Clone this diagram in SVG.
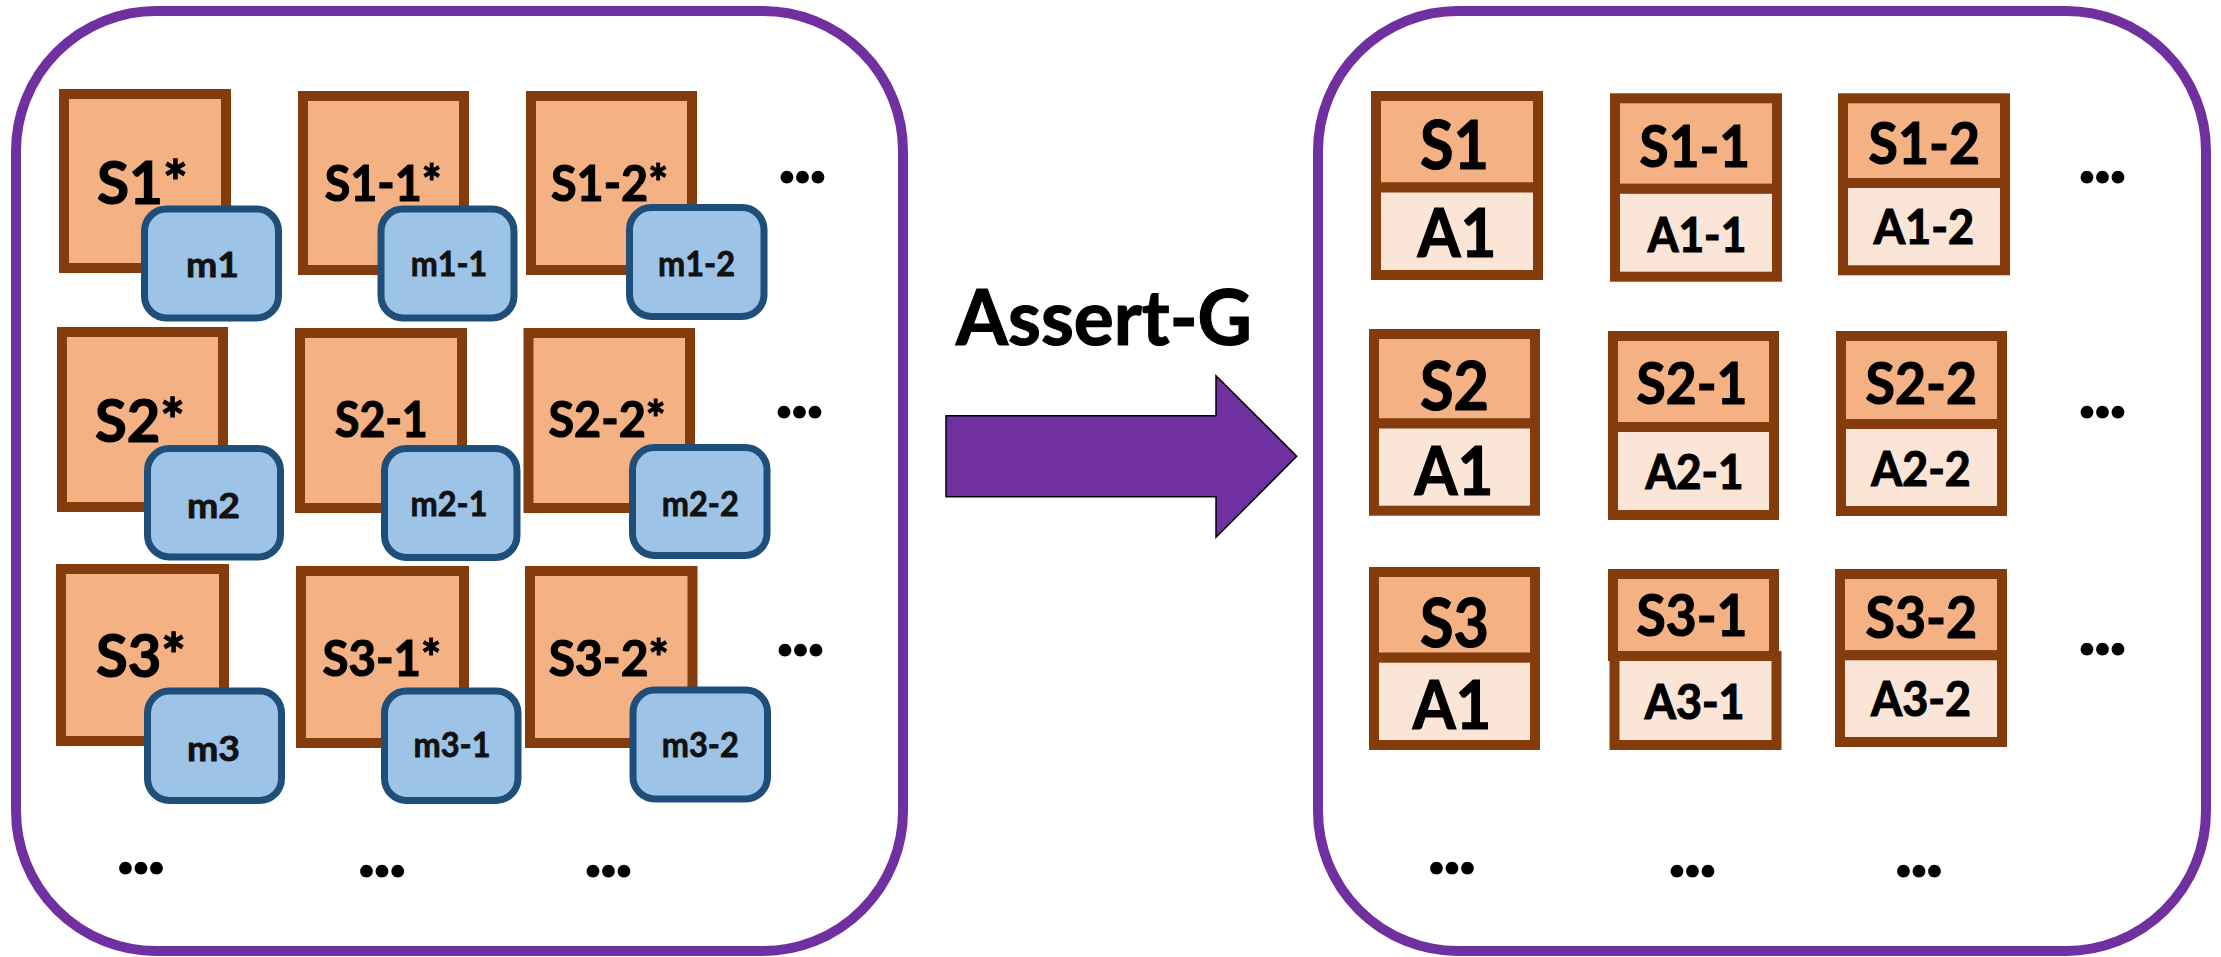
<svg xmlns="http://www.w3.org/2000/svg" width="2221" height="957" viewBox="0 0 2221 957">
  <style>
    .panel { fill: #FFFFFF; stroke: #7030A0; stroke-width: 10; }
    .s { fill: #F4B183; stroke: #843C0C; stroke-width: 10; }
    .a { fill: #FBE5D6; stroke: #843C0C; stroke-width: 10; }
    .m { fill: #9DC3E6; stroke: #1F4E79; stroke-width: 7; }
    text { font-family: Lato, "Liberation Sans", sans-serif; font-weight: bold; fill: #000000; stroke: #000000; stroke-width: 1.2; }
    .c { text-anchor: middle; }
    .big { font-size: 59px; }
    .mid { font-size: 50px; }
    .sml { font-size: 35px; fill: #111111; stroke: #111111; stroke-width: 0.8; }
    .hd { font-size: 67px; }
    .hs { font-size: 58px; }
    .ha { font-size: 48px; }
    .dots { font-size: 84px; stroke-width: 0; }
  </style>

  <rect width="2221" height="957" fill="#FFFFFF"/>

  <!-- input panel: states with marks -->
  <g id="panel-left">
    <rect class="panel" x="16" y="11" width="887" height="940" rx="140" ry="140"/>
  </g>

  <!-- output panel: states with assertions -->
  <g id="panel-right">
    <rect class="panel" x="1318" y="11" width="888" height="940" rx="140" ry="140"/>
  </g>

  <!-- transformation arrow -->
  <g id="connectors">
    <polygon points="946,415.7 1216,415.7 1216,375.7 1296.7,456.3 1216,537.3 1216,496.7 946,496.7" fill="#7030A0" stroke="#000000" stroke-width="1.5"/>
  </g>
  <g id="label-assert">
    <text x="1104" y="345" class="c" font-size="76" textLength="296" lengthAdjust="spacingAndGlyphs">Assert-G</text>
  </g>

  <!-- left grid: row 1 -->
  <g id="s1star">
    <rect class="s" x="64" y="94" width="162" height="174"/>
    <text x="142.4" y="204" class="c big" textLength="91" lengthAdjust="spacingAndGlyphs">S1*</text>
  </g>
  <g id="m1">
    <rect class="m" x="144.5" y="209" width="134" height="109" rx="22"/>
    <text x="212.4" y="276.5" class="c sml" textLength="53" lengthAdjust="spacingAndGlyphs">m1</text>
  </g>
  <g id="s1-1star">
    <rect class="s" x="303" y="96" width="161" height="174"/>
    <text x="383.2" y="201" class="c mid" textLength="117" lengthAdjust="spacingAndGlyphs">S1-1*</text>
  </g>
  <g id="m1-1">
    <rect class="m" x="381" y="209" width="133" height="109" rx="22"/>
    <text x="449" y="276" class="c sml" textLength="76.5" lengthAdjust="spacingAndGlyphs">m1-1</text>
  </g>
  <g id="s1-2star">
    <rect class="s" x="531" y="96" width="161" height="174"/>
    <text x="609.5" y="201" class="c mid" textLength="117" lengthAdjust="spacingAndGlyphs">S1-2*</text>
  </g>
  <g id="m1-2">
    <rect class="m" x="629.5" y="207.5" width="134.5" height="109" rx="22"/>
    <text x="696.5" y="276" class="c sml" textLength="77" lengthAdjust="spacingAndGlyphs">m1-2</text>
  </g>

  <!-- left grid: row 2 -->
  <g id="s2star">
    <rect class="s" x="62" y="332" width="161" height="175"/>
    <text x="139.9" y="441.7" class="c big" textLength="90" lengthAdjust="spacingAndGlyphs">S2*</text>
  </g>
  <g id="m2">
    <rect class="m" x="147.5" y="448.5" width="133" height="108.5" rx="22"/>
    <text x="213.5" y="517.5" class="c sml" textLength="53" lengthAdjust="spacingAndGlyphs">m2</text>
  </g>
  <g id="s2-1">
    <rect class="s" x="300" y="333" width="162" height="175"/>
    <text x="381.3" y="437" class="c mid" textLength="92.6" lengthAdjust="spacingAndGlyphs">S2-1</text>
  </g>
  <g id="m2-1">
    <rect class="m" x="384.5" y="448.5" width="132.5" height="109" rx="22"/>
    <text x="449" y="515.7" class="c sml" textLength="77" lengthAdjust="spacingAndGlyphs">m2-1</text>
  </g>
  <g id="s2-2star">
    <rect class="s" x="528.5" y="333" width="161.5" height="175"/>
    <text x="607.1" y="437.3" class="c mid" textLength="117.3" lengthAdjust="spacingAndGlyphs">S2-2*</text>
  </g>
  <g id="m2-2">
    <rect class="m" x="632.5" y="447.5" width="134.5" height="108" rx="22"/>
    <text x="700.3" y="515.7" class="c sml" textLength="77" lengthAdjust="spacingAndGlyphs">m2-2</text>
  </g>

  <!-- left grid: row 3 -->
  <g id="s3star">
    <rect class="s" x="61" y="569" width="163" height="172"/>
    <text x="140.9" y="676.7" class="c big" textLength="90" lengthAdjust="spacingAndGlyphs">S3*</text>
  </g>
  <g id="m3">
    <rect class="m" x="147.5" y="691" width="134" height="109.5" rx="22"/>
    <text x="213.5" y="760.5" class="c sml" textLength="53" lengthAdjust="spacingAndGlyphs">m3</text>
  </g>
  <g id="s3-1star">
    <rect class="s" x="301" y="571" width="163" height="172"/>
    <text x="381.8" y="675.7" class="c mid" textLength="118.8" lengthAdjust="spacingAndGlyphs">S3-1*</text>
  </g>
  <g id="m3-1">
    <rect class="m" x="384.5" y="691" width="133.5" height="109.5" rx="22"/>
    <text x="452" y="757.3" class="c sml" textLength="77" lengthAdjust="spacingAndGlyphs">m3-1</text>
  </g>
  <g id="s3-2star">
    <rect class="s" x="530" y="571" width="162.5" height="172"/>
    <text x="608.8" y="675.7" class="c mid" textLength="120" lengthAdjust="spacingAndGlyphs">S3-2*</text>
  </g>
  <g id="m3-2">
    <rect class="m" x="633" y="690" width="134.5" height="109" rx="22"/>
    <text x="700.3" y="757.3" class="c sml" textLength="77" lengthAdjust="spacingAndGlyphs">m3-2</text>
  </g>

  <!-- left grid continuation marks -->
  <g id="left-more">
    <text x="777" y="183" class="dots" textLength="51" lengthAdjust="spacing">...</text>
    <text x="774" y="418" class="dots" textLength="51" lengthAdjust="spacing">...</text>
    <text x="775" y="655.5" class="dots" textLength="51" lengthAdjust="spacing">...</text>
    <text x="115.5" y="874" class="dots" textLength="51" lengthAdjust="spacing">...</text>
    <text x="356.6" y="876.5" class="dots" textLength="51" lengthAdjust="spacing">...</text>
    <text x="583" y="876.5" class="dots" textLength="51" lengthAdjust="spacing">...</text>
  </g>

  <!-- right grid: row 1 -->
  <g id="s1">
    <rect class="s" x="1376" y="96" width="162" height="91.5"/>
    <rect class="a" x="1376" y="187.5" width="162" height="87.5"/>
    <text x="1454.5" y="169.3" class="c hd" textLength="69" lengthAdjust="spacingAndGlyphs">S1</text>
    <text x="1457" y="257.3" class="c hd" textLength="79" lengthAdjust="spacingAndGlyphs">A1</text>
  </g>
  <g id="s1-1">
    <rect class="s" x="1615" y="98.3" width="162" height="90.5"/>
    <rect class="a" x="1615" y="188.8" width="162" height="87.9"/>
    <text x="1694.8" y="166.7" class="c hs" textLength="110.5" lengthAdjust="spacingAndGlyphs">S1-1</text>
    <text x="1697" y="251.7" class="c ha" textLength="98.7" lengthAdjust="spacingAndGlyphs">A1-1</text>
  </g>
  <g id="s1-2">
    <rect class="s" x="1843" y="98.3" width="162" height="84.7"/>
    <rect class="a" x="1843" y="183" width="162" height="87.3"/>
    <text x="1924.3" y="164.3" class="c hs" textLength="111.4" lengthAdjust="spacingAndGlyphs">S1-2</text>
    <text x="1924" y="244.3" class="c ha" textLength="100.4" lengthAdjust="spacingAndGlyphs">A1-2</text>
  </g>

  <!-- right grid: row 2 -->
  <g id="s2">
    <rect class="s" x="1374" y="334" width="161" height="89.5"/>
    <rect class="a" x="1374" y="423.5" width="161" height="87.2"/>
    <text x="1454.5" y="410" class="c hd" textLength="69" lengthAdjust="spacingAndGlyphs">S2</text>
    <text x="1454" y="495" class="c hd" textLength="79" lengthAdjust="spacingAndGlyphs">A1</text>
  </g>
  <g id="s2-1r">
    <rect class="s" x="1613" y="336" width="161" height="91"/>
    <rect class="a" x="1613" y="427" width="161" height="88"/>
    <text x="1692" y="404" class="c hs" textLength="111" lengthAdjust="spacingAndGlyphs">S2-1</text>
    <text x="1694.5" y="489" class="c ha" textLength="98" lengthAdjust="spacingAndGlyphs">A2-1</text>
  </g>
  <g id="s2-2">
    <rect class="s" x="1841" y="336" width="161" height="88"/>
    <rect class="a" x="1841" y="424" width="161" height="87"/>
    <text x="1921.4" y="404" class="c hs" textLength="111.6" lengthAdjust="spacingAndGlyphs">S2-2</text>
    <text x="1921" y="486" class="c ha" textLength="99.3" lengthAdjust="spacingAndGlyphs">A2-2</text>
  </g>

  <!-- right grid: row 3 -->
  <g id="s3">
    <rect class="s" x="1374" y="572" width="161" height="85.7"/>
    <rect class="a" x="1374" y="657.7" width="161" height="87.3"/>
    <text x="1454.5" y="646.7" class="c hd" textLength="69" lengthAdjust="spacingAndGlyphs">S3</text>
    <text x="1452" y="729" class="c hd" textLength="78.7" lengthAdjust="spacingAndGlyphs">A1</text>
  </g>
  <g id="s3-1">
    <rect class="s" x="1613" y="574" width="161" height="82"/>
    <rect class="a" x="1614.5" y="656" width="162" height="89"/>
    <text x="1692" y="635.7" class="c hs" textLength="111" lengthAdjust="spacingAndGlyphs">S3-1</text>
    <text x="1694.7" y="718.7" class="c ha" textLength="99.8" lengthAdjust="spacingAndGlyphs">A3-1</text>
  </g>
  <g id="s3-2">
    <rect class="s" x="1840" y="574" width="162" height="81.3"/>
    <rect class="a" x="1840" y="655.3" width="162" height="86.7"/>
    <text x="1921.4" y="638.3" class="c hs" textLength="111.6" lengthAdjust="spacingAndGlyphs">S3-2</text>
    <text x="1921" y="716" class="c ha" textLength="99.8" lengthAdjust="spacingAndGlyphs">A3-2</text>
  </g>

  <!-- right grid continuation marks -->
  <g id="right-more">
    <text x="2077" y="183" class="dots" textLength="51" lengthAdjust="spacing">...</text>
    <text x="2077" y="417.7" class="dots" textLength="51" lengthAdjust="spacing">...</text>
    <text x="2077" y="655" class="dots" textLength="51" lengthAdjust="spacing">...</text>
    <text x="1426.4" y="874" class="dots" textLength="51" lengthAdjust="spacing">...</text>
    <text x="1667" y="876.7" class="dots" textLength="51" lengthAdjust="spacing">...</text>
    <text x="1893.4" y="876.7" class="dots" textLength="51" lengthAdjust="spacing">...</text>
  </g>
</svg>
